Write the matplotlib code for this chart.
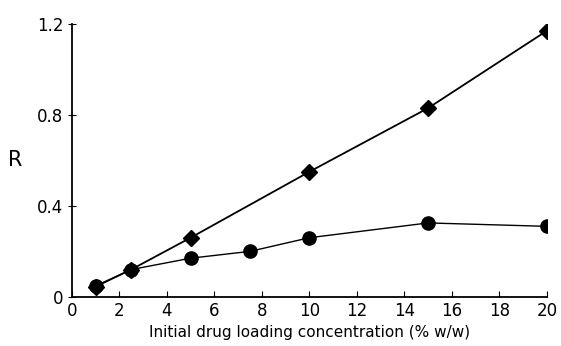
import numpy as np
import matplotlib.pyplot as plt

# drug loading (% w/w)
x_diamond = [1, 2.5, 5, 10, 15, 20]
r_diamond = [0.045, 0.12, 0.26, 0.55, 0.83, 1.17]
x_circle = [1, 2.5, 5, 7.5, 10, 15, 20]
r_circle = [0.048, 0.12, 0.17, 0.20, 0.26, 0.325, 0.31]

xticks = np.arange(0, 21, 2)
yticks = [0, 0.4, 0.8, 1.2]
ytick_labels = ['0', '0.4', '0.8', '1.2']

fig = plt.figure(figsize=(5.61, 3.46), dpi=100)
ax = fig.add_axes([0.128, 0.142, 0.847, 0.789])

ax.plot(x_circle, r_circle, 'k-', marker='o', markersize=9.5, lw=1.0)
ax.plot(x_diamond, r_diamond, 'k-', marker='D', markersize=8, lw=1.3)

ax.set_xlim(0, 20)
ax.set_ylim(0, 1.2)
ax.set_xticks(xticks)
ax.set_yticks(yticks)
ax.set_yticklabels(ytick_labels)
ax.spines['top'].set_visible(False)
ax.spines['right'].set_visible(False)
ax.spines['left'].set_linewidth(1.3)
ax.spines['bottom'].set_linewidth(1.3)
ax.tick_params(axis='x', direction='in', length=4, labelsize=12, pad=4)
ax.tick_params(axis='y', direction='inout', length=6, labelsize=12, pad=3)

ax.set_xlabel('Initial drug loading concentration (% w/w)', fontsize=11, labelpad=3)
ax.set_ylabel('R', fontsize=15, rotation=0, labelpad=16, va='center')

fig.savefig('out.png', dpi=100)
